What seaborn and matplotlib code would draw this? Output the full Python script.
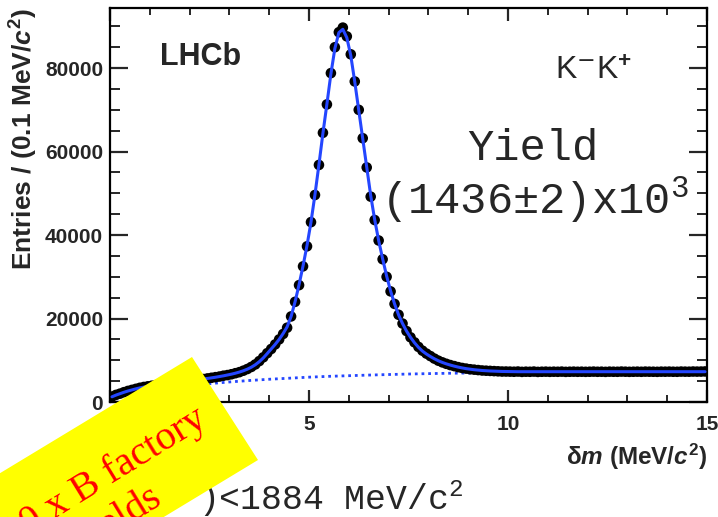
import numpy as np
import pandas as pd
import matplotlib
matplotlib.use("Agg")
import matplotlib.pyplot as plt
from matplotlib.patches import Polygon
from matplotlib.ticker import MultipleLocator
import seaborn as sns

# ---- data: D*+ -> D0 pi+, D0 -> K-K+ ; delta-m spectrum in 0.1 MeV/c^2 bins ----
n_bins = 150
bin_width = 0.1
bin_centers = bin_width * (np.arange(n_bins) + 0.5)

counts = [
    1300, 1700, 2000, 2350, 2650, 2900, 3150, 3400, 3600, 3750,
    3900, 4050, 4150, 4300, 4400, 4550, 4700, 4850, 4950, 5050,
    5150, 5250, 5400, 5500, 5650, 5800, 5950, 6100, 6300, 6450,
    6650, 6900, 7150, 7500, 7900, 8400, 9000, 9800, 10700, 11700,
    12700, 13800, 15000, 16300, 17800, 20500, 24000, 28000, 32500, 37300,
    43100, 49600, 56800, 64500, 71300, 78800, 85000, 88600, 89700, 87600,
    83300, 76800, 70000, 63200, 56200, 49200, 43600, 38700, 34200, 30000,
    26500, 23500, 20900, 18800, 17000, 15500, 14300, 13200, 12300, 11600,
    11000, 10400, 9900, 9500, 9150, 8850, 8600, 8350, 8150, 8000,
    7850, 7750, 7650, 7550, 7500, 7450, 7400, 7350, 7300, 7300,
    7280, 7250, 7300, 7220, 7260, 7240, 7290, 7210, 7250, 7270,
    7230, 7260, 7240, 7280, 7220, 7250, 7270, 7240, 7260, 7230,
    7250, 7280, 7240, 7260, 7220, 7270, 7250, 7240, 7290, 7260,
    7230, 7250, 7270, 7240, 7280, 7260, 7250, 7230, 7270, 7260,
    7280, 7250, 7240, 7290, 7270, 7260, 7300, 7280, 7290, 7320,
]

# total fit model evaluated at the bin centres
fit_total = [
    1250, 1650, 2000, 2330, 2630, 2900, 3150, 3380, 3580, 3760,
    3920, 4060, 4190, 4310, 4430, 4550, 4680, 4810, 4930, 5050,
    5160, 5270, 5390, 5510, 5640, 5780, 5930, 6090, 6270, 6460,
    6670, 6900, 7170, 7480, 7860, 8330, 8920, 9650, 10550, 11600,
    12700, 13800, 15000, 16400, 18000, 20500, 24000, 28100, 32600, 37500,
    43100, 49700, 56900, 64400, 71400, 78600, 84700, 88500, 89300, 87300,
    83000, 76700, 69900, 63100, 56300, 49500, 43700, 38700, 34300, 30200,
    26600, 23500, 20900, 18800, 17000, 15500, 14200, 13100, 12200, 11500,
    10900, 10350, 9880, 9480, 9140, 8850, 8590, 8360, 8160, 7990,
    7850, 7730, 7630, 7550, 7480, 7430, 7390, 7350, 7320, 7300,
] + [7260] * 50

# combinatorial background component
bkg_x = [0.0, 0.5, 1.0, 1.5, 2.0, 2.5, 3.0, 3.5, 4.0, 4.5, 5.0, 5.5, 6.0, 6.5,
         7.0, 7.5, 8.0, 8.5, 9.0, 9.5, 10.0, 10.5, 11.0, 11.5, 12.0, 12.5,
         13.0, 13.5, 14.0, 14.5, 15.0]
bkg_y = [600, 2000, 2900, 3500, 4000, 4400, 4800, 5150, 5450, 5700, 5950,
         6150, 6300, 6450, 6580, 6700, 6800, 6880, 6950, 7010, 7060, 7100,
         7140, 7170, 7200, 7220, 7240, 7260, 7280, 7290, 7300]

xticks = [0, 5, 10, 15]
yticks = [0, 20000, 40000, 60000, 80000]

df = pd.DataFrame({"dm": bin_centers, "entries": counts, "fit": fit_total})
df_bkg = pd.DataFrame({"dm": bkg_x, "bkg": bkg_y})

# ---- style ----
sns.set_theme(style="ticks")
plt.rcParams["font.family"] = ["Liberation Sans", "DejaVu Sans"]
plt.rcParams["mathtext.fontset"] = "custom"
plt.rcParams["mathtext.rm"] = "Liberation Sans:bold"
plt.rcParams["mathtext.it"] = "Liberation Sans:italic:bold"
plt.rcParams["mathtext.bf"] = "Liberation Sans:bold"
plt.rcParams["mathtext.tt"] = "Liberation Mono"

W, H = 718, 517
fig = plt.figure(figsize=(W / 100, H / 100), dpi=100)
fig.patch.set_facecolor("white")


def fx(px):
    return px / W


def fy(py):
    return 1 - py / H


ax = fig.add_axes([fx(110), fy(402), fx(707) - fx(110), fy(8) - fy(402)])
ax.set_facecolor("white")

blue = "#2446ff"
sns.lineplot(data=df_bkg, x="dm", y="bkg", ax=ax, color=blue, lw=2.0,
             linestyle=(0, (1.0, 1.4)), zorder=2)
sns.scatterplot(data=df, x="dm", y="entries", ax=ax, color="black", s=58,
                edgecolor="none", zorder=3)
sns.lineplot(data=df, x="dm", y="fit", ax=ax, color=blue, lw=2.2, zorder=4)

ax.set_xlim(0, 15)
ax.set_ylim(0, 94400)
ax.set_xticks(xticks)
ax.set_yticks(yticks)
ax.xaxis.set_minor_locator(MultipleLocator(1))
ax.yaxis.set_minor_locator(MultipleLocator(5000))

for s in ax.spines.values():
    s.set_linewidth(1.6)
    s.set_color("black")

ax.tick_params(axis="x", which="major", direction="in", length=9, width=1.6,
               top=True, labelsize=15, pad=9)
ax.tick_params(axis="x", which="minor", direction="in", length=5, width=1.4,
               top=True)
ax.tick_params(axis="y", which="major", direction="in", length=13, width=1.6,
               right=True, labelsize=15, pad=5)
ax.tick_params(axis="y", which="minor", direction="in", length=7, width=1.4,
               right=True)
for lab in ax.get_xticklabels() + ax.get_yticklabels():
    lab.set_fontweight("bold")

ax.set_ylabel(r"Entries / (0.1 MeV/$c^{2}$)", fontsize=19, fontweight="bold",
              loc="top")
ax.yaxis.set_label_coords(-0.118, 1.0)
ax.set_xlabel(r"δ$m$ (MeV/$c^{2}$)", fontsize=17.5, fontweight="bold",
              loc="right")
ax.xaxis.set_label_coords(1.0, -0.100)

# ---- annotations ----
fig.text(fx(160), fy(57), "LHCb", fontsize=22, fontweight="bold",
         ha="left", va="center")
fig.text(fx(555), fy(80), r"K$^{\mathsf{-}}$K$^{+}$", fontsize=23,
         ha="left", va="baseline")
fig.text(fx(533), fy(160), "Yield", fontsize=31.5, family="Liberation Mono",
         ha="center", va="baseline")
fig.text(fx(381), fy(214), r"(1436±2)x10$^{\mathtt{3}}$", fontsize=31.5,
         family="Liberation Mono", ha="left", va="baseline")
fig.text(fx(198), fy(510), r")<1884 MeV/c$^{\mathtt{2}}$", fontsize=25,
         family="Liberation Mono", ha="left", va="baseline")

# ---- rotated yellow call-out ----
T = np.array([192.0, 357.0])
R = np.array([258.0, 460.0])
v = np.array([-0.856, 0.518])
L = 420.0
corners = [T, R, R + L * v, T + L * v]
poly = Polygon([(fx(p[0]), fy(p[1])) for p in corners], closed=True,
               transform=fig.transFigure, facecolor="#ffff00",
               edgecolor="none", zorder=10)
fig.add_artist(poly)

ang = 31.5
fig.text(fx(209), fy(424), "10 x B factory", fontsize=29,
         family="Liberation Serif", color="#ff0000", rotation=ang,
         rotation_mode="anchor", ha="right", va="baseline", zorder=11)
fig.text(fx(164), fy(503), "yields", fontsize=29,
         family="Liberation Serif", color="#ff0000", rotation=ang,
         rotation_mode="anchor", ha="right", va="baseline", zorder=11)

fig.savefig("out.png", dpi=100)
